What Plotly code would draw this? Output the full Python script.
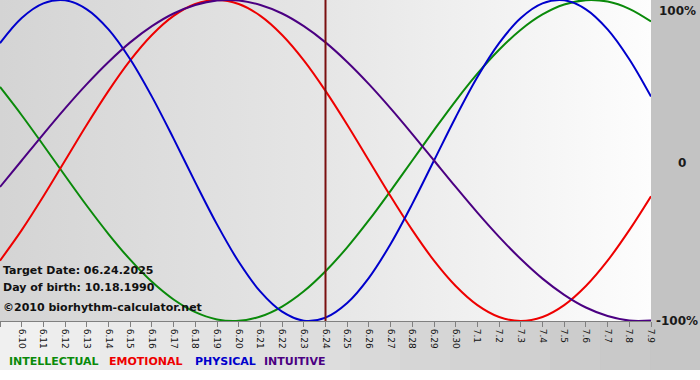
import plotly.graph_objects as go

dates = ["6.9", "6.10", "6.11", "6.12", "6.13", "6.14", "6.15", "6.16", "6.17", "6.18",
         "6.19", "6.20", "6.21", "6.22", "6.23", "6.24", "6.25", "6.26", "6.27", "6.28",
         "6.29", "6.30", "7.1", "7.2", "7.3", "7.4", "7.5", "7.6", "7.7", "7.8", "7.9"]
target_label = "6.24"

intellectual = [0.458, 0.282, 0.095, -0.095, -0.282, -0.458, -0.618, -0.756, -0.866, -0.945,
                -0.990, -0.999, -0.972, -0.910, -0.815, -0.690, -0.541, -0.372, -0.189, 0.0,
                0.189, 0.372, 0.541, 0.690, 0.815, 0.910, 0.972, 0.999, 0.990, 0.945, 0.866]
emotional = [-0.624, -0.434, -0.223, 0.0, 0.223, 0.434, 0.624, 0.782, 0.901, 0.975,
             1.0, 0.975, 0.901, 0.782, 0.624, 0.434, 0.223, 0.0, -0.223, -0.434,
             -0.624, -0.782, -0.901, -0.975, -1.0, -0.975, -0.901, -0.782, -0.624, -0.434, -0.223]
physical = [0.731, 0.888, 0.979, 0.998, 0.942, 0.817, 0.631, 0.398, 0.136, -0.136,
            -0.398, -0.631, -0.817, -0.942, -0.998, -0.979, -0.888, -0.731, -0.520, -0.270,
            0.0, 0.270, 0.520, 0.731, 0.888, 0.979, 0.998, 0.942, 0.817, 0.631, 0.398]
intuitive = [-0.165, 0.0, 0.165, 0.325, 0.476, 0.614, 0.736, 0.837, 0.916, 0.969,
             0.997, 0.997, 0.969, 0.916, 0.837, 0.736, 0.614, 0.476, 0.325, 0.165,
             0.0, -0.165, -0.325, -0.476, -0.614, -0.736, -0.837, -0.916, -0.969, -0.997, -0.997]

series_names = ["INTELLECTUAL", "EMOTIONAL", "PHYSICAL", "INTUITIVE"]
series_colors = ["#0a8a0a", "#ee0000", "#0000cc", "#4b0082"]
y_tick_vals = [1, 0, -1]
y_tick_text = ["100%", "0", "-100%"]
info_lines = ["Target Date: 06.24.2025", "Day of birth: 10.18.1990", "\u00a92010 biorhythm-calculator.net"]

xs = list(range(len(dates)))
t = dates.index(target_label)
last = len(dates) - 1

fig = go.Figure()

# background gradients (past / future halves)
fig.add_trace(go.Scatter(x=[0, t, t, 0, 0], y=[-1, -1, 1, 1, -1], mode="lines", fill="toself",
                         line=dict(width=0), hoverinfo="skip", showlegend=False,
                         fillgradient=dict(type="horizontal", colorscale=[[0, "#d4d4d4"], [1, "#e6e6e6"]])))
fig.add_trace(go.Scatter(x=[t, last, last, t, t], y=[-1, -1, 1, 1, -1], mode="lines", fill="toself",
                         line=dict(width=0), hoverinfo="skip", showlegend=False,
                         fillgradient=dict(type="horizontal", colorscale=[[0, "#e6e6e6"], [1, "#fdfdfd"]])))

for name, vals, col in zip(series_names, [intellectual, emotional, physical, intuitive], series_colors):
    fig.add_trace(go.Scatter(x=xs, y=vals, mode="lines", name=name,
                             line=dict(color=col, width=2, shape="spline", smoothing=1.0),
                             showlegend=False))

# target line
fig.add_shape(type="line", xref="x", yref="paper", x0=t, x1=t, y0=0, y1=1,
              line=dict(color="#7a1010", width=2), layer="above")

# outer grey frame (right margin and bottom strip)
fig.add_shape(type="rect", xref="paper", yref="paper", x0=1.0, x1=1.08, y0=-0.001, y1=1.01,
              fillcolor="#c3c3c3", line=dict(width=0), layer="below")
n_bands = 14
for i in range(n_bands):
    f = i / (n_bands - 1)
    g = int(round(240 - f * (240 - 198)))
    fig.add_shape(type="rect", xref="paper", yref="paper",
                  x0=i / n_bands * 1.0753, x1=(i + 1) / n_bands * 1.0753 + 0.002,
                  y0=-0.1526, y1=0.0,
                  fillcolor=f"rgb({g},{g},{g})", line=dict(width=0), layer="below")

# y labels on right
label_xshift = {1: 6, 0: 25, -1: 3}
label_yshift = {1: -2, 0: -2, -1: 0}
for v, txt in zip(y_tick_vals, y_tick_text):
    anchor = "top" if v == 1 else "middle"
    fig.add_annotation(x=1.0, xref="paper", y=v, yref="y", text=txt, showarrow=False,
                       xanchor="left", yanchor=anchor, xshift=label_xshift[v],
                       yshift=label_yshift[v],
                       font=dict(family="DejaVu Sans", size=12, color="#1a1a1a", weight="bold"))

# info text
for i, line in enumerate(info_lines):
    yy = [270, 287, 307][i]
    fig.add_annotation(x=0, xref="paper", y=1 - yy / 321, yref="paper", text=line, showarrow=False,
                       xanchor="left", yanchor="middle", xshift=1,
                       font=dict(family="DejaVu Sans", size=11, color="#111111", weight="bold"))

# legend row
leg_x = [7, 107, 193, 262]
for name, col, lx in zip(series_names, series_colors, leg_x):
    fig.add_annotation(x=lx / 651, xref="paper", y=-(361 - 321) / 321, yref="paper", text=name,
                       showarrow=False, xanchor="left", yanchor="middle",
                       font=dict(family="DejaVu Sans", size=11, color=col, weight="bold"))

fig.update_layout(
    width=700, height=380,
    margin=dict(l=0, r=49, t=0, b=59, pad=0),
    paper_bgcolor="#ffffff",
    plot_bgcolor="rgba(0,0,0,0)",
    showlegend=False,
    xaxis=dict(range=[0, last], tickvals=xs, ticktext=dates, tickangle=90,
               showgrid=True, gridcolor="#808080", gridwidth=1,
               ticks="outside", ticklen=5, tickcolor="#808080",
               showline=True, linecolor="#808080", zeroline=False,
               tickfont=dict(family="DejaVu Sans", size=9, color="#111111"), fixedrange=True),
    yaxis=dict(range=[-1, 1], tickvals=[0], showticklabels=False, showgrid=True,
               gridcolor="#808080", gridwidth=1, zeroline=False, side="right",
               showline=False, fixedrange=True),
)

fig.write_html("out.html", config={"displayModeBar": False, "staticPlot": True},
               post_script="document.body.style.margin='0';document.body.style.padding='0';document.body.style.overflow='hidden';")
